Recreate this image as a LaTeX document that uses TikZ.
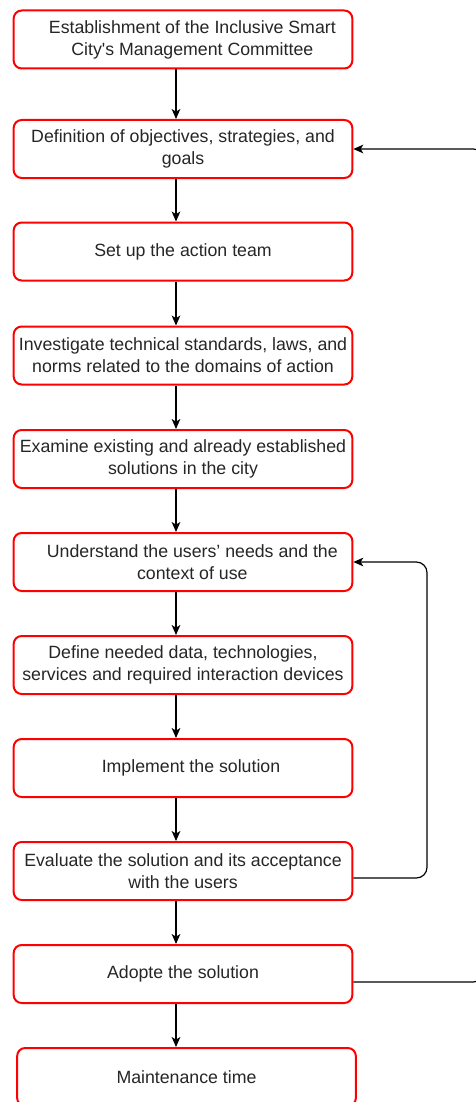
\documentclass[tikz,border=0pt]{standalone}
\usepackage{fontspec}
\setmainfont{Liberation Sans}
\usetikzlibrary{arrows.meta}

\tikzset{
  stepbox/.style={draw=red, line width=1.5pt, rounded corners=6pt, fill=white,
    minimum width=254pt, minimum height=43.5pt, inner sep=0pt, align=center,
    text=black!85, font=\fontsize{13.3}{16.5}\selectfont},
  arr/.style={-{Stealth[length=7.5pt,width=6.5pt,inset=2pt]}, line width=0.9pt},
}

\begin{document}
\begin{tikzpicture}[x=0.75pt,y=-0.75pt]
        \useasboundingbox (0,0) rectangle (475,1102);

        % The steps, one below the other
        \node[stepbox] (b1) at (183,39.5) {\hspace{14pt}Establishment of the Inclusive Smart\\\hspace{14pt}City\textquotesingle s Management Committee};
        \node[stepbox] (b2) at (183,149) {Definition of objectives, strategies, and\\goals};
        \node[stepbox] (b3) at (183,251.5) {Set up the action team};
        \node[stepbox] (b4) at (183,355.5) {Investigate technical standards, laws, and\\norms related to the domains of action};
        \node[stepbox] (b5) at (183,459) {Examine existing and already established\\solutions in the city};
        \node[stepbox] (b6) at (183,562) {\hspace{14pt}Understand the users’ needs and the\\\hspace{14pt}context of use};
        \node[stepbox] (b7) at (183,665) {Define needed data, technologies,\\services and required interaction devices};
        \node[stepbox] (b8) at (183,768) {\hspace{12pt}Implement the solution};
        \node[stepbox] (b9) at (183,871) {Evaluate the solution and its acceptance\\with the users};
        \node[stepbox] (b10) at (183,974) {Adopte the solution};
        \node[stepbox] (b11) at (186.5,1077) {Maintenance time};

        % Column of the down arrows and the two return lines
        \coordinate (ax) at (176,0);
        \coordinate (r1) at (484,0);
        \coordinate (r2) at (427,0);

        % Down arrows
        \foreach \a/\b in {b1/b2,b2/b3,b3/b4,b4/b5,b5/b6,b6/b7,b7/b8,b8/b9,b9/b10,b10/b11}
          \draw[arr] (\a.south -| ax) -- (\b.north -| ax);

        % Back from the evaluation to the users' needs
        \draw[arr, rounded corners=8pt] ([yshift=-5.25pt]b9.east) -| (r2 |- b6.east) -- (b6.east);
        % Back from the adoption to the objectives
        \draw[arr, rounded corners=8pt] ([yshift=-6pt]b10.east) -| (r1 |- b2.east) -- (b2.east);

\end{tikzpicture}
\end{document}
